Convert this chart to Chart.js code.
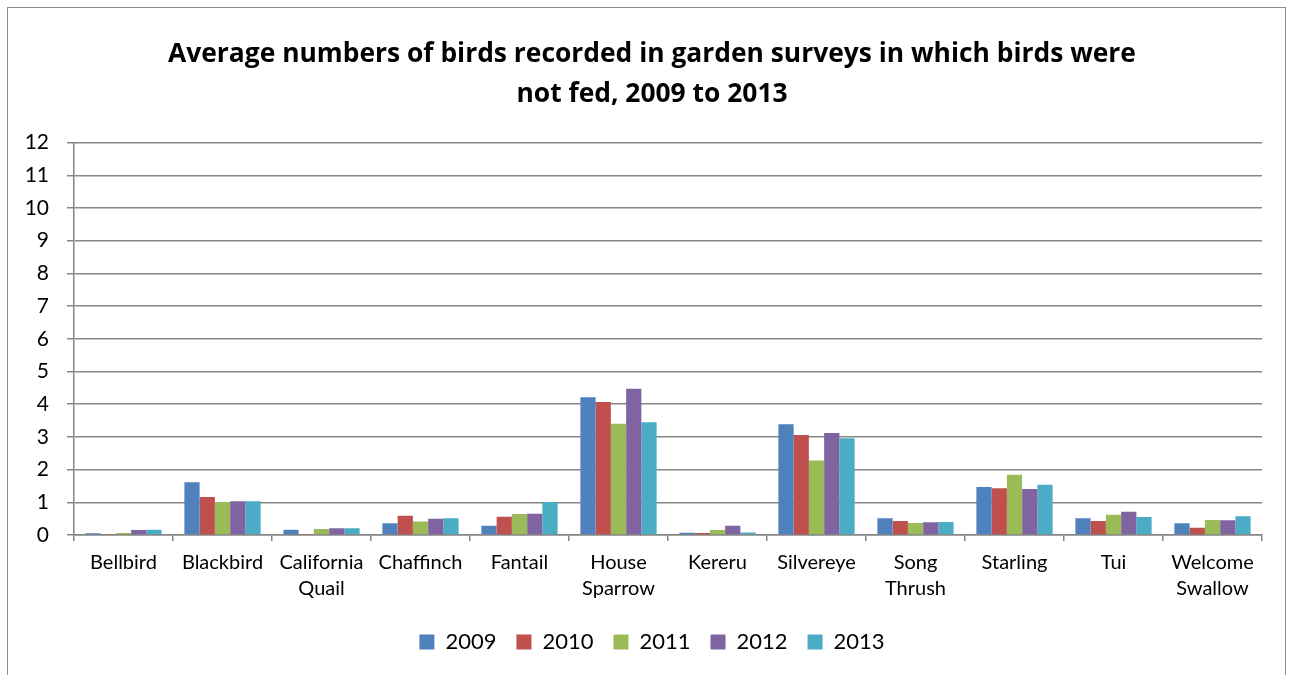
<!DOCTYPE html>
<html>
<head>
<meta charset="utf-8">
<script src="https://cdn.jsdelivr.net/npm/chart.js@4/dist/chart.umd.min.js"></script>
<style>
  html, body { margin: 0; padding: 0; background: #ffffff; }
  #wrap { position: relative; width: 1292px; height: 675px; }
  canvas { display: block; }
</style>
</head>
<body>
<div id="wrap"><canvas id="chart" width="1292" height="675"></canvas></div>
<script>
// Bird species surveyed
const categories = [
  'Bellbird', 'Blackbird', ['California', 'Quail'], 'Chaffinch', 'Fantail',
  ['House', 'Sparrow'], 'Kereru', 'Silvereye', ['Song', 'Thrush'], 'Starling',
  'Tui', ['Welcome', 'Swallow']
];

// Average birds per garden (no feeding), by survey year
const y2009 = [0.05, 1.61, 0.16, 0.36, 0.28, 4.21, 0.07, 3.39, 0.51, 1.47, 0.51, 0.36];
const y2010 = [0.03, 1.16, 0.03, 0.59, 0.56, 4.07, 0.06, 3.06, 0.43, 1.43, 0.43, 0.22];
const y2011 = [0.06, 1.01, 0.18, 0.41, 0.64, 3.40, 0.15, 2.28, 0.37, 1.84, 0.62, 0.46];
const y2012 = [0.15, 1.03, 0.21, 0.50, 0.65, 4.47, 0.28, 3.12, 0.39, 1.41, 0.71, 0.45];
const y2013 = [0.16, 1.03, 0.21, 0.51, 1.01, 3.45, 0.08, 2.96, 0.40, 1.54, 0.55, 0.57];

const seriesNames = ['2009', '2010', '2011', '2012', '2013'];
const seriesColors = ['#4F81BD', '#C0504D', '#9BBB59', '#8064A2', '#4BACC6'];

// Y axis range and step
const yMin = 0;
const yMax = 12;
const yStep = 1;

const titleLines = [
  'Average numbers of birds recorded in garden surveys in which birds were',
  'not fed, 2009 to 2013'
];

const FONT = "Lato, 'Open Sans', 'DejaVu Sans', sans-serif";
const TITLE_FONT = "'Open Sans', Lato, 'DejaVu Sans', sans-serif";
const GRID = '#868686';

// Thin frame around the whole chart
const frame = {
  id: 'frame',
  beforeDraw(chart) {
    const ctx = chart.ctx;
    ctx.save();
    ctx.strokeStyle = '#8c8c8c';
    ctx.lineWidth = 1;
    ctx.strokeRect(7.5, 7.5, 1278, 700);
    ctx.restore();
  }
};

// Title and legend sit centred a little right of the canvas middle
const centreShift = {
  id: 'centreShift',
  afterLayout(chart) {
    const dx = 21;
    [chart.titleBlock, chart.legend].forEach(b => {
      if (b) { b.left += dx; b.right += dx; }
    });
  }
};

const allSeries = [y2009, y2010, y2011, y2012, y2013];

new Chart(document.getElementById('chart'), {
  type: 'bar',
  data: {
    labels: categories,
    datasets: allSeries.map((vals, i) => ({
      label: seriesNames[i],
      data: vals,
      backgroundColor: seriesColors[i],
      borderWidth: 0,
      categoryPercentage: 0.77,
      barPercentage: 1.0
    }))
  },
  plugins: [frame, centreShift],
  options: {
    responsive: false,
    maintainAspectRatio: false,
    devicePixelRatio: 1,
    animation: false,
    layout: { padding: { left: 0, right: 30, top: 0, bottom: 12 } },
    plugins: {
      title: {
        display: true,
        text: titleLines,
        color: '#000000',
        font: { family: TITLE_FONT, size: 26.4, weight: 'bold', lineHeight: 1.5 },
        padding: { top: 35, bottom: 28.4 }
      },
      legend: {
        position: 'bottom',
        labels: {
          color: '#000000',
          font: { family: FONT, size: 22 },
          boxWidth: 15,
          boxHeight: 15,
          padding: 20
        }
      },
      tooltip: { enabled: false }
    },
    scales: {
      x: {
        offset: true,
        grid: {
          display: true,
          offset: true,
          drawOnChartArea: false,
          drawTicks: true,
          tickLength: 6,
          color: GRID,
          lineWidth: 1.5
        },
        border: { display: true, color: GRID, width: 1.5 },
        ticks: {
          color: '#000000',
          font: { family: FONT, size: 20, lineHeight: 1.3 },
          padding: 9,
          maxRotation: 0,
          autoSkip: false
        },
        afterFit(scale) { scale.height = 76; }
      },
      y: {
        min: yMin,
        max: yMax,
        grid: {
          color: GRID,
          lineWidth: 1.5,
          tickLength: 7,
          drawTicks: true
        },
        border: { display: true, color: GRID, width: 1.5 },
        ticks: {
          stepSize: yStep,
          color: '#000000',
          font: { family: FONT, size: 21 },
          padding: 18
        },
        afterFit(scale) { scale.width = 74; }
      }
    }
  }
});
</script>
</body>
</html>
